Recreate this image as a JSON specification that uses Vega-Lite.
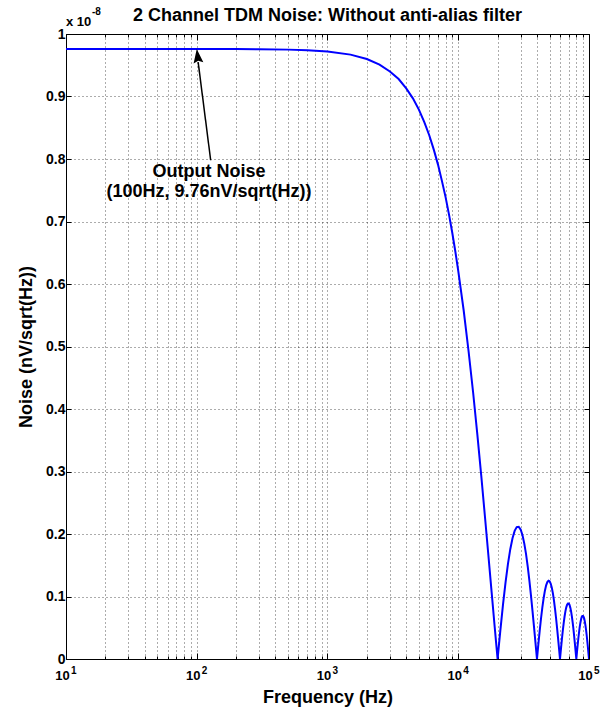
{
  "$schema": "https://vega.github.io/schema/vega-lite/v6.json",
  "width": 523,
  "height": 625,
  "autosize": {"type": "none"},
  "padding": {"left": 66, "top": 34, "right": 16, "bottom": 58},
  "background": "white",
  "config": {
    "view": {"stroke": "black", "strokeWidth": 1},
    "axis": {
      "labelFont": "Liberation Sans",
      "labelFontSize": 14,
      "labelFontWeight": "bold",
      "labelColor": "black",
      "titleFont": "Liberation Sans",
      "titleFontSize": 18,
      "titleFontWeight": "bold",
      "titleColor": "black",
      "domain": false,
      "tickColor": "black",
      "tickWidth": 1,
      "gridColor": "black",
      "gridDash": [1, 3],
      "gridWidth": 1,
      "gridOpacity": 0.65,
      "labelFlush": false,
      "labelOverlap": false,
      "labelBound": false
    },
    "text": {"font": "Liberation Sans", "color": "black"}
  },
  "datasets": {
    "curve": [
      {"freq": 10, "noise": 0.976}, {"freq": 20, "noise": 0.976}, {"freq": 50, "noise": 0.976},
      {"freq": 100, "noise": 0.976}, {"freq": 200, "noise": 0.9759}, {"freq": 300, "noise": 0.9756},
      {"freq": 500, "noise": 0.975}, {"freq": 700, "noise": 0.974}, {"freq": 1000, "noise": 0.972},
      {"freq": 1500, "noise": 0.967}, {"freq": 2000, "noise": 0.96}, {"freq": 2500, "noise": 0.951},
      {"freq": 3000, "noise": 0.94}, {"freq": 3500, "noise": 0.928}, {"freq": 4000, "noise": 0.913},
      {"freq": 4500, "noise": 0.897}, {"freq": 5000, "noise": 0.879}, {"freq": 5500, "noise": 0.859},
      {"freq": 6000, "noise": 0.838}, {"freq": 6500, "noise": 0.815}, {"freq": 7000, "noise": 0.791},
      {"freq": 7500, "noise": 0.765}, {"freq": 8000, "noise": 0.739}, {"freq": 8500, "noise": 0.711},
      {"freq": 9000, "noise": 0.682}, {"freq": 9500, "noise": 0.652}, {"freq": 10000, "noise": 0.621},
      {"freq": 11000, "noise": 0.558}, {"freq": 12000, "noise": 0.492}, {"freq": 13000, "noise": 0.426},
      {"freq": 14000, "noise": 0.359}, {"freq": 15000, "noise": 0.293}, {"freq": 16000, "noise": 0.228},
      {"freq": 17000, "noise": 0.166}, {"freq": 18000, "noise": 0.107}, {"freq": 19000, "noise": 0.0512},
      {"freq": 19500, "noise": 0.025}, {"freq": 20000, "noise": 0}, {"freq": 20500, "noise": 0.0238},
      {"freq": 21000, "noise": 0.0463}, {"freq": 22000, "noise": 0.0873}, {"freq": 23000, "noise": 0.1226},
      {"freq": 24000, "noise": 0.1522}, {"freq": 25000, "noise": 0.1757}, {"freq": 26000, "noise": 0.1933},
      {"freq": 27000, "noise": 0.205}, {"freq": 28000, "noise": 0.211}, {"freq": 29000, "noise": 0.2116},
      {"freq": 30000, "noise": 0.2071}, {"freq": 31000, "noise": 0.198}, {"freq": 32000, "noise": 0.1847},
      {"freq": 33000, "noise": 0.1678}, {"freq": 34000, "noise": 0.1478}, {"freq": 35000, "noise": 0.1255},
      {"freq": 36000, "noise": 0.1014}, {"freq": 37000, "noise": 0.0762}, {"freq": 38000, "noise": 0.0505},
      {"freq": 39000, "noise": 0.0249}, {"freq": 40000, "noise": 0}, {"freq": 41000, "noise": 0.0237},
      {"freq": 42000, "noise": 0.0457}, {"freq": 43000, "noise": 0.0656}, {"freq": 44000, "noise": 0.083},
      {"freq": 45000, "noise": 0.0976}, {"freq": 46000, "noise": 0.1093}, {"freq": 47000, "noise": 0.1178},
      {"freq": 48000, "noise": 0.1231}, {"freq": 49000, "noise": 0.1252}, {"freq": 50000, "noise": 0.1243},
      {"freq": 51000, "noise": 0.1203}, {"freq": 52000, "noise": 0.1136}, {"freq": 53000, "noise": 0.1045},
      {"freq": 54000, "noise": 0.0931}, {"freq": 55000, "noise": 0.0799}, {"freq": 56000, "noise": 0.0652},
      {"freq": 57000, "noise": 0.0495}, {"freq": 58000, "noise": 0.0331}, {"freq": 59000, "noise": 0.0165},
      {"freq": 60000, "noise": 0}, {"freq": 61000, "noise": 0.0159}, {"freq": 62000, "noise": 0.031},
      {"freq": 63000, "noise": 0.0448}, {"freq": 64000, "noise": 0.0571}, {"freq": 65000, "noise": 0.0676},
      {"freq": 66000, "noise": 0.0762}, {"freq": 67000, "noise": 0.0826}, {"freq": 68000, "noise": 0.0869},
      {"freq": 69000, "noise": 0.0889}, {"freq": 70000, "noise": 0.0888}, {"freq": 71000, "noise": 0.0864},
      {"freq": 72000, "noise": 0.0821}, {"freq": 73000, "noise": 0.0758}, {"freq": 74000, "noise": 0.0679},
      {"freq": 75000, "noise": 0.0586}, {"freq": 76000, "noise": 0.0481}, {"freq": 77000, "noise": 0.0366},
      {"freq": 78000, "noise": 0.0246}, {"freq": 79000, "noise": 0.0123}, {"freq": 80000, "noise": 0},
      {"freq": 81000, "noise": 0.012}, {"freq": 82000, "noise": 0.0234}, {"freq": 83000, "noise": 0.034},
      {"freq": 84000, "noise": 0.0435}, {"freq": 85000, "noise": 0.0517}, {"freq": 86000, "noise": 0.0585},
      {"freq": 87000, "noise": 0.0636}, {"freq": 88000, "noise": 0.0672}, {"freq": 89000, "noise": 0.069},
      {"freq": 90000, "noise": 0.069}, {"freq": 91000, "noise": 0.0674}, {"freq": 92000, "noise": 0.0642},
      {"freq": 93000, "noise": 0.0595}, {"freq": 94000, "noise": 0.0535}, {"freq": 95000, "noise": 0.0463},
      {"freq": 96000, "noise": 0.038}, {"freq": 97000, "noise": 0.0291}, {"freq": 98000, "noise": 0.0196},
      {"freq": 99000, "noise": 0.0098}, {"freq": 100000, "noise": 0}
    ],
    "decades": [
      {"freq": 10, "exp": "1"}, {"freq": 100, "exp": "2"}, {"freq": 1000, "exp": "3"},
      {"freq": 10000, "exp": "4"}, {"freq": 100000, "exp": "5"}
    ],
    "note": [
      {"freq": 100, "noise": 0.976, "line1": "Output Noise", "line2": "(100Hz, 9.76nV/sqrt(Hz))"}
    ],
    "heading": [
      {"title": "2 Channel TDM Noise: Without anti-alias filter", "base": "x 10", "power": "-8"}
    ]
  },
  "layer": [
    {
      "data": {"name": "curve"},
      "mark": {"type": "line", "color": "#0000ff", "strokeWidth": 2, "clip": true},
      "encoding": {
        "x": {
          "field": "freq",
          "type": "quantitative",
          "scale": {"type": "log", "domain": [10, 100000], "nice": false},
          "axis": {
            "orient": "bottom",
            "title": "Frequency (Hz)",
            "titleBaseline": "alphabetic",
            "titlePadding": 17,
            "values": [10, 20, 30, 40, 50, 60, 70, 80, 90, 100, 200, 300, 400, 500, 600, 700, 800, 900, 1000, 2000, 3000, 4000, 5000, 6000, 7000, 8000, 9000, 10000, 20000, 30000, 40000, 50000, 60000, 70000, 80000, 90000, 100000],
            "grid": true,
            "tickSize": {"condition": {"test": "abs(log(datum.value)/LN10 - round(log(datum.value)/LN10)) < 0.001", "value": -6}, "value": -3},
            "labelExpr": "abs(log(datum.value)/LN10 - round(log(datum.value)/LN10)) < 0.001 ? '10' : ''",
            "labelFontSize": 13,
            "labelBaseline": "alphabetic",
            "labelPadding": 26,
            "labelOffset": -4
          }
        },
        "y": {
          "field": "noise",
          "type": "quantitative",
          "scale": {"domain": [0, 1], "nice": false},
          "axis": {
            "orient": "left",
            "title": "Noise (nV/sqrt(Hz))",
            "titlePadding": 10,
            "values": [0, 0.1, 0.2, 0.3, 0.4, 0.5, 0.6, 0.7, 0.8, 0.9, 1],
            "grid": true,
            "tickSize": -5,
            "labelPadding": 6,
            "labelExpr": "datum.value == 0 ? '0' : datum.value == 1 ? '1' : format(datum.value, '.1f')"
          }
        }
      }
    },
    {
      "data": {"name": "note"},
      "mark": {"type": "rule", "color": "black", "strokeWidth": 1.5},
      "encoding": {
        "x": {
          "datum": 127.8,
          "type": "quantitative",
          "axis": {
            "orient": "top",
            "title": null,
            "labels": false,
            "grid": false,
            "values": [10, 20, 30, 40, 50, 60, 70, 80, 90, 100, 200, 300, 400, 500, 600, 700, 800, 900, 1000, 2000, 3000, 4000, 5000, 6000, 7000, 8000, 9000, 10000, 20000, 30000, 40000, 50000, 60000, 70000, 80000, 90000, 100000],
            "tickSize": {"condition": {"test": "abs(log(datum.value)/LN10 - round(log(datum.value)/LN10)) < 0.001", "value": -6}, "value": -3}
          }
        },
        "y": {
          "datum": 0.798,
          "type": "quantitative",
          "axis": {
            "orient": "right",
            "title": null,
            "labels": false,
            "grid": false,
            "values": [0, 0.1, 0.2, 0.3, 0.4, 0.5, 0.6, 0.7, 0.8, 0.9, 1],
            "tickSize": -5
          }
        },
        "x2": {"datum": 102.5},
        "y2": {"datum": 0.955}
      }
    },
    {
      "data": {"name": "note"},
      "mark": {
        "type": "point",
        "shape": "M0,0L-0.7,2L0,1.7L0.7,2Z",
        "filled": true,
        "color": "black",
        "opacity": 1,
        "size": 196,
        "angle": -7
      },
      "encoding": {
        "x": {"field": "freq", "type": "quantitative", "axis": null},
        "y": {"field": "noise", "type": "quantitative", "axis": null}
      }
    },
    {
      "data": {"name": "note"},
      "mark": {"type": "text", "fontSize": 18, "fontWeight": "bold", "align": "center", "baseline": "alphabetic"},
      "encoding": {
        "x": {"datum": 124.1, "type": "quantitative", "axis": null},
        "y": {"datum": 0.7712, "type": "quantitative", "axis": null},
        "text": {"field": "line1"}
      }
    },
    {
      "data": {"name": "note"},
      "mark": {"type": "text", "fontSize": 18, "fontWeight": "bold", "align": "center", "baseline": "alphabetic"},
      "encoding": {
        "x": {"datum": 124.1, "type": "quantitative", "axis": null},
        "y": {"datum": 0.7392, "type": "quantitative", "axis": null},
        "text": {"field": "line2"}
      }
    },
    {
      "data": {"name": "heading"},
      "mark": {"type": "text", "fontSize": 18, "fontWeight": "bold", "align": "center", "baseline": "alphabetic", "dy": -13},
      "encoding": {
        "x": {"datum": 1000, "type": "quantitative", "axis": null},
        "y": {"datum": 1, "type": "quantitative", "axis": null},
        "text": {"field": "title"}
      }
    },
    {
      "data": {"name": "heading"},
      "mark": {"type": "text", "fontSize": 13, "fontWeight": "bold", "align": "left", "baseline": "alphabetic", "dy": -8},
      "encoding": {
        "x": {"datum": 10, "type": "quantitative", "axis": null},
        "y": {"datum": 1, "type": "quantitative", "axis": null},
        "text": {"field": "base"}
      }
    },
    {
      "data": {"name": "heading"},
      "mark": {"type": "text", "fontSize": 10, "fontWeight": "bold", "align": "left", "baseline": "alphabetic", "dx": 26, "dy": -19},
      "encoding": {
        "x": {"datum": 10, "type": "quantitative", "axis": null},
        "y": {"datum": 1, "type": "quantitative", "axis": null},
        "text": {"field": "power"}
      }
    },
    {
      "data": {"name": "decades"},
      "mark": {"type": "text", "fontSize": 10, "fontWeight": "bold", "align": "left", "baseline": "alphabetic", "dx": 5, "dy": 15},
      "encoding": {
        "x": {"field": "freq", "type": "quantitative", "axis": null},
        "y": {"datum": 0, "type": "quantitative", "axis": null},
        "text": {"field": "exp"}
      }
    }
  ],
  "resolve": {"axis": {"x": "independent", "y": "independent"}}
}
